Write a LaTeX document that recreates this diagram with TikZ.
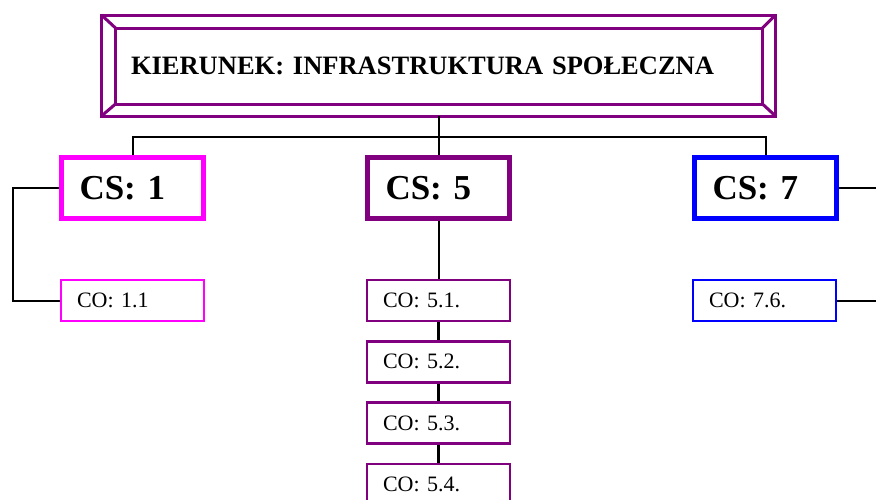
\documentclass[tikz,border=0pt]{standalone}
\usepackage{fontspec}
\setmainfont{Liberation Serif}
\usetikzlibrary{calc}
\definecolor{mag}{HTML}{FF00FF}
\definecolor{pur}{HTML}{800080}
\definecolor{blu}{HTML}{0000FF}
\begin{document}
\begin{tikzpicture}[x=1pt,y=-1pt,
 conn/.style={draw=black,line width=2pt},
 chain/.style={draw=black,line width=2.8pt},
 csbox/.style={draw,line width=5pt,rectangle,minimum width=142pt,minimum height=61pt,inner xsep=18pt,inner ysep=0pt,text width=106pt,align=left,font=\fontsize{35}{40}\selectfont\bfseries},
 cobox/.style={draw,line width=2.5pt,rectangle,minimum width=143pt,minimum height=41pt,inner xsep=16pt,inner ysep=0pt,text width=111pt,align=left,font=\fontsize{22}{26}\selectfont},
 frame/.style={draw=pur,line width=3pt,line join=miter}
]
\useasboundingbox (0,0) rectangle (876,499);
\node[frame,rectangle,outer sep=0pt,minimum width=674pt,minimum height=101pt,inner xsep=29.5pt,inner ysep=0pt,text width=615pt,align=left,font=\fontsize{26.5}{30}\selectfont\bfseries] (top) at (438.5,65.5) {KIERUNEK: INFRASTRUKTURA SPOŁECZNA};
\coordinate (inw) at ($(top.north west)+(14,13)$);
\coordinate (ise) at ($(top.south east)+(-13,-12)$);
\coordinate (ine) at ($(top.north east)+(-13,13)$);
\coordinate (isw) at ($(top.south west)+(14,-12)$);
\draw[frame] (inw) rectangle (ise);
\draw[frame] (top.north west) -- (inw) (top.north east) -- (ine) (top.south east) -- (ise) (top.south west) -- (isw);

\node[csbox,draw=mag] (cs1) at (132.5,188) {CS: 1};
\node[csbox,draw=pur] (cs5) at (438.5,188) {CS: 5};
\node[csbox,draw=blu] (cs7) at (765.5,188) {CS: 7};

\node[cobox,draw=mag] (co11) at (132.5,300.5) {CO: 1.1};
\node[cobox,draw=pur] (co51) at (438.5,300.5) {CO: 5.1.};
\node[cobox,draw=pur] (co52) at (438.5,361.8) {CO: 5.2.};
\node[cobox,draw=pur] (co53) at (438.5,423.1) {CO: 5.3.};
\node[cobox,draw=pur] (co54) at (438.5,484.4) {CO: 5.4.};
\node[cobox,draw=blu] (co76) at (764.5,300.5) {CO: 7.6.};

\coordinate (bus) at (438.5,137);
\coordinate (l1) at (13,188);
\coordinate (r1) at (880,188);
\coordinate (r2) at (880,300.5);
\draw[conn] (top.south) -- (bus);
\draw[conn] (cs1.north) |- (bus) -| (cs7.north);
\draw[conn] (bus) -- (cs5.north);
\draw[conn] (cs1.west) -- (l1) |- (co11.west);
\draw[conn] (cs7.east) -- (r1);
\draw[conn] (co76.east) -- (r2);
\draw[conn] (cs5.south) -- (co51.north);
\draw[chain] (co51.south) -- (co52.north);
\draw[chain] (co52.south) -- (co53.north);
\draw[chain] (co53.south) -- (co54.north);
\end{tikzpicture}
\end{document}
